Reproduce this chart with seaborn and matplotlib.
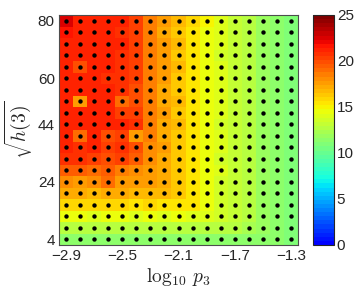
import numpy as np
import pandas as pd
import matplotlib
matplotlib.use("Agg")
import matplotlib.pyplot as plt
import seaborn as sns
from matplotlib.colors import ListedColormap

# dane: kolumny = log10 p3, wiersze = sqrt(h(3)) (od gory)
log_p3 = [-2.9, -2.8, -2.7, -2.6, -2.5, -2.4, -2.3, -2.2, -2.1,
          -2.0, -1.9, -1.8, -1.7, -1.6, -1.5, -1.4, -1.3]
sqrt_h3 = [80, 76, 72, 68, 64, 60, 56, 52, 48, 44, 40, 36, 32, 28, 24, 20, 16, 12, 8, 4]

wartosci = [
    [22.6, 21.4, 21.4, 21.3, 21.0, 20.5, 18.7, 17.5, 16.6, 15.7, 14.8, 14.0, 13.2, 12.6, 12.0, 11.4, 10.8],
    [21.5, 21.4, 21.3, 21.3, 20.9, 20.3, 18.6, 17.4, 16.5, 15.4, 14.6, 13.9, 13.2, 12.5, 12.0, 11.4, 10.8],
    [21.4, 21.3, 21.4, 21.2, 21.2, 20.3, 18.6, 17.5, 16.6, 15.5, 14.7, 13.9, 13.2, 12.6, 12.0, 11.3, 10.8],
    [21.4, 21.3, 21.4, 21.0, 20.7, 20.3, 18.5, 17.6, 16.5, 15.6, 14.7, 13.8, 13.2, 12.5, 12.0, 11.4, 10.8],
    [21.4, 20.0, 21.3, 21.3, 20.9, 20.4, 18.6, 17.5, 16.6, 15.5, 14.6, 13.9, 13.2, 12.5, 11.9, 11.4, 10.8],
    [21.4, 21.3, 21.3, 20.9, 20.7, 20.3, 18.5, 17.5, 16.5, 15.5, 14.7, 13.9, 13.2, 12.5, 12.0, 11.4, 10.8],
    [21.3, 21.4, 21.2, 21.2, 20.7, 20.0, 18.6, 17.4, 16.5, 15.6, 14.6, 13.9, 13.1, 12.5, 12.0, 11.4, 10.8],
    [21.3, 17.6, 21.3, 21.2, 18.9, 19.8, 18.4, 17.4, 16.6, 15.6, 14.6, 13.9, 13.2, 12.6, 12.0, 11.4, 10.8],
    [21.4, 21.2, 21.3, 21.2, 20.3, 20.3, 18.5, 17.5, 16.4, 15.5, 14.6, 13.9, 13.2, 12.5, 12.0, 11.3, 10.8],
    [21.3, 21.3, 21.3, 21.2, 21.0, 20.6, 18.6, 17.4, 16.6, 15.5, 14.7, 13.8, 13.2, 12.5, 12.0, 11.4, 10.8],
    [21.2, 18.8, 21.2, 20.0, 20.1, 17.7, 18.4, 17.4, 16.5, 15.6, 14.6, 13.9, 13.1, 12.5, 12.0, 11.4, 10.8],
    [21.2, 20.7, 21.2, 20.5, 20.7, 20.0, 18.3, 17.5, 16.5, 15.4, 14.6, 13.9, 13.2, 12.5, 11.9, 11.4, 10.8],
    [20.6, 20.7, 20.4, 20.0, 20.3, 19.4, 18.2, 17.3, 16.4, 15.5, 14.6, 13.8, 13.2, 12.5, 12.0, 11.4, 10.8],
    [19.3, 19.6, 19.0, 19.3, 18.5, 18.1, 17.8, 17.2, 16.4, 15.4, 14.6, 13.9, 13.1, 12.5, 12.0, 11.3, 10.8],
    [18.0, 17.8, 17.9, 18.8, 17.7, 17.6, 17.5, 17.0, 16.3, 15.5, 14.6, 13.8, 13.2, 12.5, 11.9, 11.4, 10.8],
    [17.0, 17.0, 16.9, 17.3, 17.1, 16.8, 16.9, 16.7, 16.2, 15.4, 14.6, 13.8, 13.1, 12.5, 12.0, 11.4, 10.8],
    [15.8, 15.7, 15.8, 15.7, 15.8, 15.6, 15.7, 15.6, 15.5, 15.2, 14.5, 13.8, 13.1, 12.5, 12.0, 11.3, 10.8],
    [14.3, 14.3, 14.2, 14.3, 14.3, 14.2, 14.3, 14.2, 14.3, 14.2, 14.1, 13.7, 13.1, 12.5, 11.9, 11.4, 10.8],
    [12.9, 12.9, 12.8, 12.9, 12.9, 12.8, 12.9, 12.8, 12.9, 12.8, 12.8, 12.8, 12.7, 12.4, 12.0, 11.4, 10.8],
    [11.5, 11.5, 11.4, 11.5, 11.5, 11.4, 11.5, 11.4, 11.5, 11.4, 11.4, 11.4, 11.4, 11.4, 11.3, 11.2, 10.8],
]

x_ticki = [-2.9, -2.5, -2.1, -1.7, -1.3]
y_ticki = [4, 24, 44, 60, 80]
cbar_ticki = [0, 5, 10, 15, 20, 25]

sns.set_style("white")
plt.rcParams["font.family"] = ["Liberation Sans", "DejaVu Sans"]
plt.rcParams["mathtext.fontset"] = "cm"

# paleta jet bez ciemnoniebieskiego poczatku (jak w oryginale)
jet = matplotlib.colormaps["jet"]
paleta = ListedColormap(jet(np.linspace(0.125, 1.0, 56)))

tabela = pd.DataFrame(wartosci, index=sqrt_h3, columns=log_p3)

fig = plt.figure(figsize=(3.58, 2.91), dpi=100)
ax = fig.add_axes([59 / 358, 46 / 291, 239 / 358, 230 / 291])
cax = fig.add_axes([313 / 358, 46 / 291, 21 / 358, 230 / 291])

sns.heatmap(tabela, ax=ax, cbar_ax=cax, cmap=paleta, vmin=0, vmax=25,
            xticklabels=False, yticklabels=False)

# kropki w srodkach komorek siatki
gx, gy = np.meshgrid(np.arange(len(log_p3)) + 0.5, np.arange(len(sqrt_h3)) + 0.5)
ax.scatter(gx.ravel(), gy.ravel(), s=10, color="black", linewidths=0, zorder=3)

xpos = [int(np.argmin(np.abs(np.array(log_p3) - v))) + 0.5 for v in x_ticki]
ypos = [sqrt_h3.index(v) + 0.5 for v in y_ticki]
ax.set_xticks(xpos)
ax.set_xticklabels([f"{v:.1f}".replace("-", "\u2212") for v in x_ticki])
ax.set_yticks(ypos)
ax.set_yticklabels([str(v) for v in y_ticki], rotation=0)
ax.tick_params(direction="in", length=3, width=0.6, color="0.35", top=True, right=True,
               labelsize=11, pad=3)

for s in ax.spines.values():
    s.set_visible(True)
    s.set_color("0.3")
    s.set_linewidth(0.8)

ax.set_xlabel(r"$\log_{10}\,p_3$", fontsize=14, labelpad=2)
ax.set_ylabel(r"$\sqrt{h(3)}$", fontsize=14, labelpad=2)

cbar = ax.collections[0].colorbar
cbar.set_ticks(cbar_ticki)
cbar.set_ticklabels([str(v) for v in cbar_ticki])
cbar.outline.set_linewidth(0.8)
cbar.outline.set_edgecolor("0.15")
cax.tick_params(direction="in", length=3, width=0.6, color="0.35", labelsize=11, pad=2)

fig.savefig("out.png", dpi=100)
plt.close(fig)
